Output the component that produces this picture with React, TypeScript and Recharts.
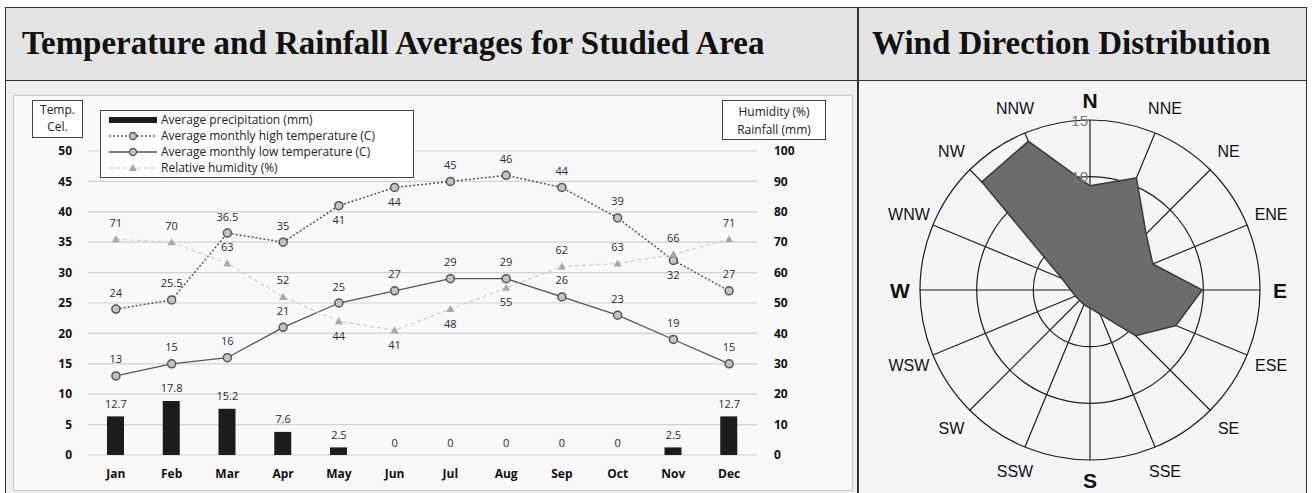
import React from 'react'
import {
  ComposedChart,
  Bar,
  Line,
  XAxis,
  YAxis,
  CartesianGrid,
  LabelList,
  Legend,
  RadarChart,
  Radar,
  PolarGrid,
  PolarAngleAxis,
  PolarRadiusAxis,
} from 'recharts'

const months = ['Jan', 'Feb', 'Mar', 'Apr', 'May', 'Jun', 'Jul', 'Aug', 'Sep', 'Oct', 'Nov', 'Dec']
const precipitation = [12.7, 17.8, 15.2, 7.6, 2.5, 0, 0, 0, 0, 0, 2.5, 12.7]
const highTemp = [24, 25.5, 36.5, 35, 41, 44, 45, 46, 44, 39, 32, 27]
const lowTemp = [13, 15, 16, 21, 25, 27, 29, 29, 26, 23, 19, 15]
const humidity = [71, 70, 63, 52, 44, 41, 48, 55, 62, 63, 66, 71]

const tempTicks = [0, 5, 10, 15, 20, 25, 30, 35, 40, 45, 50]
const rightTicks = [0, 10, 20, 30, 40, 50, 60, 70, 80, 90, 100]

const directions = ['N', 'NNE', 'NE', 'ENE', 'E', 'ESE', 'SE', 'SSE', 'S', 'SSW', 'SW', 'WSW', 'W', 'WNW', 'NW', 'NNW']
const windFreq = [9.2, 10.7, 7.0, 6.0, 9.9, 8.2, 5.7, 2.3, 1.6, 1.4, 1.3, 1.4, 1.7, 2.7, 13.5, 14.2]

// which points get their value label under the marker
const highBelow = [4, 5, 10]
const humidityBelow = [4, 5, 6, 7]
const legendOrder = ['precip', 'high', 'low', 'humidity']

const chartData = months.map((m, i) => ({
  month: m,
  precip: precipitation[i],
  high: highTemp[i],
  low: lowTemp[i],
  humidity: humidity[i],
}))

const windData = directions.map((d, i) => ({ dir: d, freq: windFreq[i] }))

const SANS = '"Open Sans", "DejaVu Sans", sans-serif'
const SERIF = '"Liberation Serif", "Times New Roman", serif'
const ARIAL = '"Liberation Sans", Arial, sans-serif'

const tickStyle = { fontFamily: SANS, fontSize: 12, fontWeight: 700, fill: '#111' }
const labelStyle = { fontFamily: SANS, fontSize: 11, fill: '#2a2a2a' }

const CircleDot = (props: any) => {
  const { cx, cy, index } = props
  return <circle key={index} cx={cx} cy={cy} r={4} fill="#c4c4c4" stroke="#555" strokeWidth={1.5} />
}

const TriangleDot = (props: any) => {
  const { cx, cy, index } = props
  return (
    <path
      key={index}
      d={`M${cx},${cy - 4} L${cx + 4},${cy + 3} L${cx - 4},${cy + 3} Z`}
      fill="#a8a8a8"
    />
  )
}

const pointLabel = (below: number[], up = 17, down = 14) => (props: any) => {
  const { x, y, value, index } = props
  const under = below.includes(index)
  return (
    <text
      x={x}
      y={under ? y + down : y - up}
      textAnchor="middle"
      dominantBaseline="central"
      style={labelStyle}
    >
      {value}
    </text>
  )
}

const LegendBox = (props: any) => {
  const { payload = [] } = props
  const seen = new Set<string>()
  const items = payload
    .filter((e: any) => e.type !== 'none' && legendOrder.includes(e.dataKey))
    .filter((e: any) => {
      if (seen.has(e.dataKey)) return false
      seen.add(e.dataKey)
      return true
    })
    .sort((a: any, b: any) => legendOrder.indexOf(a.dataKey) - legendOrder.indexOf(b.dataKey))
  return (
    <div
      style={{
        border: '1.5px solid #444',
        background: '#fff',
        padding: '1px 6px 1px 8px',
        width: 298,
        fontFamily: SANS,
        fontSize: 12,
        color: '#222',
        lineHeight: '16px',
      }}
    >
      {items.map((entry: any) => (
        <div key={entry.dataKey} style={{ display: 'flex', alignItems: 'center' }}>
          <svg width={48} height={14} style={{ marginRight: 4 }}>
            {entry.dataKey === 'precip' && <rect x={0} y={4} width={48} height={6} fill="#1c1c1c" />}
            {entry.dataKey === 'high' && (
              <>
                <line x1={0} y1={7} x2={48} y2={7} stroke="#555" strokeWidth={1.5} strokeDasharray="2 2" />
                <circle cx={24} cy={7} r={3.5} fill="#c4c4c4" stroke="#555" strokeWidth={1.3} />
              </>
            )}
            {entry.dataKey === 'low' && (
              <>
                <line x1={0} y1={7} x2={48} y2={7} stroke="#555" strokeWidth={1.3} />
                <circle cx={24} cy={7} r={3.5} fill="#c4c4c4" stroke="#555" strokeWidth={1.3} />
              </>
            )}
            {entry.dataKey === 'humidity' && (
              <>
                <line x1={0} y1={7} x2={48} y2={7} stroke="#d5d5d5" strokeWidth={1.3} strokeDasharray="4 3" />
                <path d="M24,3 L28,10 L20,10 Z" fill="#a8a8a8" />
              </>
            )}
          </svg>
          <span>{entry.value}</span>
        </div>
      ))}
    </div>
  )
}

const WIND_CX = 230
const WIND_CY = 208
const WIND_R = 170

const AngleTick = (props: any) => {
  const { x, y, payload } = props
  const dx = x - WIND_CX
  const dy = y - WIND_CY
  const len = Math.sqrt(dx * dx + dy * dy) || 1
  const major = ['N', 'E', 'S', 'W'].includes(payload.value)
  const r = major ? 190 : 196
  const px = WIND_CX + (dx / len) * r
  const py = WIND_CY + (dy / len) * r
  return (
    <text
      x={px}
      y={py}
      textAnchor="middle"
      dominantBaseline="central"
      style={{
        fontFamily: ARIAL,
        fontSize: major ? 21 : 16,
        fontWeight: major ? 700 : 400,
        fill: '#111',
      }}
    >
      {payload.value}
    </text>
  )
}

const RadiusTick = (props: any) => {
  const { x, y, payload } = props
  if (payload.value === 0 || payload.value === 5) return <g />
  return (
    <text
      x={x - 2}
      y={y}
      textAnchor="end"
      dominantBaseline="central"
      style={{ fontFamily: ARIAL, fontSize: 15, fill: '#777' }}
    >
      {payload.value}
    </text>
  )
}

const boxText = { fontFamily: SANS, fontSize: 12, color: '#222', lineHeight: '17px', textAlign: 'center' as const }
const titleStyle = {
  position: 'absolute' as const,
  top: 25,
  fontFamily: SERIF,
  fontWeight: 700,
  fontSize: 33,
  color: '#111',
  whiteSpace: 'nowrap' as const,
}

export default function App() {
  return (
    <div style={{ position: 'absolute', left: 0, top: 0, width: 1313, height: 493, background: '#fff', overflow: 'hidden' }}>
      {/* frame */}
      <div
        style={{
          position: 'absolute',
          left: 5,
          top: 7,
          width: 1300,
          height: 490,
          border: '1.5px solid #333',
          background: '#efefef',
        }}
      />
      <div
        style={{
          position: 'absolute',
          left: 6,
          top: 8,
          width: 1300,
          height: 72,
          background: '#e4e4e4',
          borderBottom: '1.5px solid #333',
        }}
      />
      <div
        style={{ position: 'absolute', left: 859, top: 82, width: 446, height: 411, background: '#f5f5f5' }}
      />
      <div style={{ position: 'absolute', left: 857, top: 7, width: 1.5, height: 490, background: '#333' }} />
      <div style={{ ...titleStyle, left: 22 }}>Temperature and Rainfall Averages for Studied Area</div>
      <div style={{ ...titleStyle, left: 872 }}>Wind Direction Distribution</div>

      {/* left chart area */}
      <div
        style={{
          position: 'absolute',
          left: 13,
          top: 95,
          width: 838,
          height: 394,
          background: '#f9f9f9',
          border: '1px solid #c8c8c8',
        }}
      />
      <div
        style={{
          position: 'absolute',
          left: 32,
          top: 100,
          width: 49,
          height: 36,
          border: '1.5px solid #444',
          background: '#fff',
          ...boxText,
        }}
      >
        Temp.
        <br />
        Cel.
      </div>
      <div
        style={{
          position: 'absolute',
          left: 722,
          top: 100,
          width: 104,
          height: 40,
          border: '1.5px solid #444',
          background: '#fff',
          ...boxText,
          lineHeight: '18px',
          paddingTop: 2,
          boxSizing: 'border-box',
        }}
      >
        Humidity (%)
        <br />
        Rainfall (mm)
      </div>

      <div style={{ position: 'absolute', left: 12, top: 90 }}>
        <ComposedChart width={840} height={400} data={chartData} margin={{ top: 61, right: 35, bottom: 5, left: 16 }}>
          <CartesianGrid yAxisId="left" vertical={false} stroke="#d2d2d2" strokeWidth={1.2} />
          <XAxis
            dataKey="month"
            axisLine={false}
            tickLine={false}
            tickMargin={8}
            height={30}
            tick={tickStyle}
            interval={0}
          />
          <YAxis
            yAxisId="left"
            domain={[0, 50]}
            ticks={tempTicks}
            axisLine={false}
            tickLine={false}
            tickMargin={10}
            width={60}
            tick={tickStyle}
          />
          <YAxis
            yAxisId="right"
            orientation="right"
            domain={[0, 100]}
            ticks={rightTicks}
            axisLine={false}
            tickLine={false}
            tickMargin={11}
            width={60}
            tick={{ ...tickStyle, textAnchor: 'start' }}
          />
          <Legend
            layout="vertical"
            align="center"
            verticalAlign="middle"
            content={LegendBox}
            wrapperStyle={{ position: 'absolute', left: 88, top: 20, width: 'auto', height: 'auto' }}
          />
          <Bar
            yAxisId="right"
            dataKey="precip"
            name="Average precipitation (mm)"
            barSize={17}
            fill="#1c1c1c"
            isAnimationActive={false}
          />
          {/* carries the rainfall value labels, zeros included */}
          <Line
            yAxisId="right"
            dataKey="precip"
            stroke="none"
            dot={false}
            activeDot={false}
            legendType="none"
            isAnimationActive={false}
          >
            <LabelList dataKey="precip" content={pointLabel([], 13)} />
          </Line>
          <Line
            yAxisId="left"
            dataKey="high"
            name="Average monthly high temperature (C)"
            stroke="#555"
            strokeWidth={1.5}
            strokeDasharray="2 2"
            dot={CircleDot}
            isAnimationActive={false}
          >
            <LabelList dataKey="high" content={pointLabel(highBelow)} />
          </Line>
          <Line
            yAxisId="left"
            dataKey="low"
            name="Average monthly low temperature (C)"
            stroke="#555"
            strokeWidth={1.3}
            dot={CircleDot}
            isAnimationActive={false}
          >
            <LabelList dataKey="low" content={pointLabel([])} />
          </Line>
          <Line
            yAxisId="right"
            dataKey="humidity"
            name="Relative humidity (%)"
            stroke="#d0d0d0"
            strokeWidth={1.3}
            strokeDasharray="4 3"
            dot={TriangleDot}
            isAnimationActive={false}
          >
            <LabelList dataKey="humidity" content={pointLabel(humidityBelow)} />
          </Line>
        </ComposedChart>
      </div>

      {/* wind rose */}
      <div style={{ position: 'absolute', left: 860, top: 82 }}>
        <RadarChart
          width={446}
          height={411}
          cx={WIND_CX}
          cy={WIND_CY}
          outerRadius={WIND_R}
          data={windData}
          margin={{ top: 0, right: 0, bottom: 0, left: 0 }}
        >
          <PolarGrid gridType="circle" stroke="#1e1e1e" strokeWidth={1.2} />
          <PolarAngleAxis dataKey="dir" tick={AngleTick} tickLine={false} axisLine={false} />
          <PolarRadiusAxis angle={90} domain={[0, 15]} tickCount={4} axisLine={false} tick={RadiusTick} />
          <Radar
            dataKey="freq"
            fill="#6c6c6c"
            fillOpacity={1}
            stroke="#3a3a3a"
            strokeWidth={1.5}
            isAnimationActive={false}
          />
        </RadarChart>
      </div>
    </div>
  )
}
